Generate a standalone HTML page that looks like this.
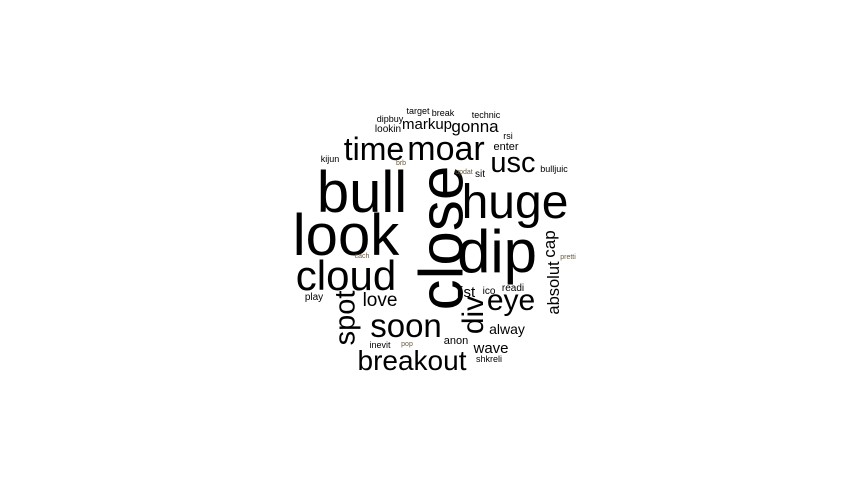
<!DOCTYPE html>
<html><head><meta charset="utf-8"><style>
html,body{margin:0;padding:0;background:#fff;}
svg{display:block;}
text{font-family:"Liberation Sans",Arial,sans-serif;fill:#000;}
</style></head><body>
<svg id="cloud" width="865" height="478" viewBox="0 0 865 478"></svg>
<script>
const words = ["bull","look","close","dip","huge","time","moar","usc","cloud","spot","love","soon","breakout","div","eye","list","ico","readi","cap","absolut","alway","wave","anon","shkreli","inevit","pop","play","cach","pretti","kijun","brb","updat","sit","bulljuic","enter","rsi","technic","gonna","markup","lookin","dipbuy","target","break"];
const sizes = [58,58,62,60,48,32,34,29,42,29,19,33,28,30,30,15,10,10,17,16.5,14,15,11,9,9,7,10,7,7,9,7,7,10,9,11,9,9,17,15,10,9,9,9];
const xs = [362,346,440,497,515,374,446,513,346,344,380,406,412,472,511,466,489,513,549,553,507,491,456,489,380,407,314,362,568,330,401,464,480,554,506,508,486,475,427,388,390,418,443];
const ys = [212,255,238,272,218,160,160,172,290,318,306,337,370,315,310,297,294,291,244,288,334,353,344,362,348,346,300,258,259,162,165,174,177,172,150,139,118,132,129,132,122,114,116];
const rotated = [0,0,1,0,0,0,0,0,0,1,0,0,0,1,0,0,0,0,1,1,0,0,0,0,0,0,0,0,0,0,0,0,0,0,0,0,0,0,0,0,0,0,0];
const svg = document.getElementById('cloud');
const NS = "http://www.w3.org/2000/svg";
words.forEach((w,i)=>{
  const t = document.createElementNS(NS,'text');
  
  
  t.setAttribute('font-size', sizes[i]);
  t.setAttribute('text-anchor','middle');
  if (sizes[i] <= 7) t.setAttribute('style','fill:#6b5a40');
  if (rotated[i]) {
    const off = sizes[i]*0.36;
    t.setAttribute('x', 0); t.setAttribute('y', 0);
    t.setAttribute('transform', 'translate(' + (xs[i]+off) + ',' + ys[i] + ') rotate(-90)');
  } else {
    t.setAttribute('x', xs[i]); t.setAttribute('y', ys[i]);
  }
  t.textContent = w;
  svg.appendChild(t);
});
</script>
</body></html>
